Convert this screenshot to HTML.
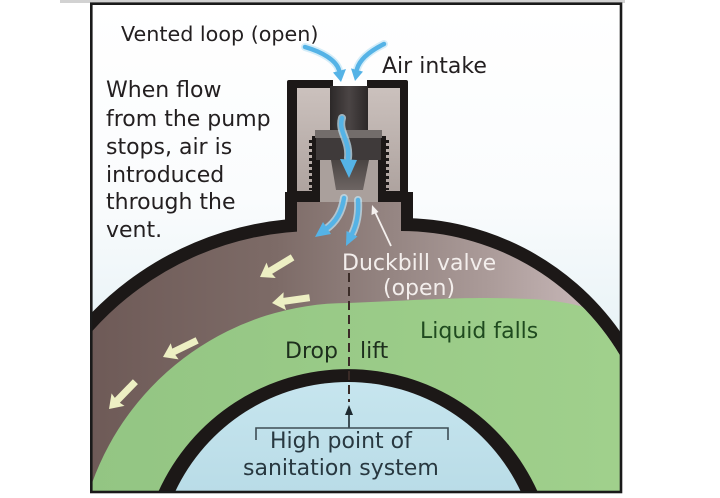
<!DOCTYPE html>
<html><head><meta charset="utf-8">
<style>
html,body{margin:0;padding:0;background:#fff;width:720px;height:498px;overflow:hidden;}
svg{display:block;overflow:hidden;}
text{font-family:"DejaVu Sans","Liberation Sans",sans-serif;}
</style></head><body>
<svg width="720" height="498" viewBox="0 0 720 498" xmlns="http://www.w3.org/2000/svg">
<defs>
 <linearGradient id="bg" x1="0" y1="5" x2="0" y2="493" gradientUnits="userSpaceOnUse">
  <stop offset="0" stop-color="#ffffff"/>
  <stop offset="0.4" stop-color="#fafcfd"/>
  <stop offset="1" stop-color="#d3e8ef"/>
 </linearGradient>
 <linearGradient id="brown" x1="90" y1="0" x2="622" y2="0" gradientUnits="userSpaceOnUse">
  <stop offset="0" stop-color="#6e5a57"/>
  <stop offset="0.35" stop-color="#7d6b67"/>
  <stop offset="0.55" stop-color="#938380"/>
  <stop offset="0.75" stop-color="#ab9b99"/>
  <stop offset="0.9" stop-color="#c1b1b1"/>
  <stop offset="1" stop-color="#c8b9b9"/>
 </linearGradient>
 <linearGradient id="green" x1="90" y1="0" x2="622" y2="0" gradientUnits="userSpaceOnUse">
  <stop offset="0" stop-color="#93c583"/>
  <stop offset="1" stop-color="#a0d08c"/>
 </linearGradient>
 <linearGradient id="sky" x1="0" y1="370" x2="0" y2="493" gradientUnits="userSpaceOnUse">
  <stop offset="0" stop-color="#c8e6ef"/>
  <stop offset="1" stop-color="#b9dce7"/>
 </linearGradient>
 <linearGradient id="tube" x1="330" y1="0" x2="368" y2="0" gradientUnits="userSpaceOnUse">
  <stop offset="0" stop-color="#2c2828"/>
  <stop offset="0.5" stop-color="#4b4545"/>
  <stop offset="1" stop-color="#2c2828"/>
 </linearGradient>
 <linearGradient id="chamber" x1="0" y1="88" x2="0" y2="192" gradientUnits="userSpaceOnUse">
  <stop offset="0" stop-color="#cbc1bd"/>
  <stop offset="1" stop-color="#aea39f"/>
 </linearGradient>
 <linearGradient id="bill" x1="0" y1="160" x2="0" y2="190" gradientUnits="userSpaceOnUse">
  <stop offset="0" stop-color="#4a4442"/>
  <stop offset="1" stop-color="#6d6563"/>
 </linearGradient>
 <clipPath id="innerDome"><path d="M 92,492 L 92,331.4 A 300 300 0 0 1 316 231 L 401 231 A 255 255 0 0 1 620 355.4 L 620 492 Z"/></clipPath>
</defs>

<rect x="60" y="0" width="565" height="3" fill="#d2d2d2"/>
<rect x="91" y="4" width="530" height="489" fill="url(#bg)"/>

<!-- outer dome black -->
<path d="M 92,492 L 92,312.4 A 313 313 0 0 1 316 218 L 401 218 A 268 268 0 0 1 620 331.5 L 620 492 Z" fill="#1c1817"/>
<!-- brown interior -->
<path d="M 92,492 L 92,331.4 A 300 300 0 0 1 316 231 L 401 231 A 255 255 0 0 1 620 355.4 L 620 492 Z" fill="url(#brown)"/>
<!-- green liquid -->
<g clip-path="url(#innerDome)">
 <path d="M 92,492 L 92,483.1 A 272 272 0 0 1 348 303 C 420 300 470 296 530 299 C 575 301 605 312 620 325 L 620 492 Z" fill="url(#green)"/>
</g>
<!-- inner pipe -->
<path d="M 158.2,492 A 208 208 0 0 1 537.8 492 Z" fill="#1c1817"/>
<path d="M 175,492 A 191 191 0 0 1 521 492 Z" fill="url(#sky)"/>

<!-- neck -->
<rect x="285" y="192" width="128" height="36" fill="#1c1817"/>
<rect x="297" y="200" width="104" height="40" fill="url(#brown)"/>

<!-- cap -->
<rect x="287" y="80" width="121" height="120" rx="2" fill="#1c1817"/>
<rect x="297" y="88" width="103" height="104" fill="url(#chamber)"/>
<rect x="333" y="79" width="34" height="10" fill="#ffffff"/>
<rect x="330" y="86" width="38" height="45" fill="url(#tube)"/>
<rect x="319" y="158" width="60" height="44" fill="#aaa09c"/>
<rect x="312" y="136" width="8" height="64" fill="#1c1817"/>
<rect x="378" y="136" width="8" height="64" fill="#1c1817"/>
<line x1="310.5" y1="140" x2="310.5" y2="190" stroke="#1c1817" stroke-width="3" stroke-dasharray="3 3"/>
<line x1="387.5" y1="140" x2="387.5" y2="190" stroke="#1c1817" stroke-width="3" stroke-dasharray="3 3"/>
<rect x="287" y="191" width="33" height="11" fill="#1c1817"/>
<rect x="378" y="191" width="30" height="11" fill="#1c1817"/>
<rect x="315" y="130" width="67" height="8" fill="#736d6b"/>
<rect x="316" y="138" width="65" height="22" fill="#3f3a3a"/>
<polygon points="331,160 369,160 363,190 336,190" fill="url(#bill)"/>

<!-- blue air arrows -->
<g fill="none" stroke="#c4e6f6" stroke-width="8" stroke-linecap="round" opacity="0.7">
 <path d="M 305,47 C 322,52 336,60 339,70"/>
 <path d="M 384,44 C 372,50 360,58 357,69"/>
 <path d="M 342,118 C 338,132 350,140 348,158"/>
 <path d="M 344,198 C 342,212 336,222 326,229"/>
 <path d="M 358,200 C 359,214 356,226 352,234"/>
</g>
<g fill="none" stroke="#55b3e6" stroke-width="4.5" stroke-linecap="round">
 <path d="M 305,47 C 322,52 336,60 339,70"/>
 <path d="M 384,44 C 372,50 360,58 357,69"/>
 <path d="M 342,118 C 338,132 350,140 348,158"/>
 <path d="M 344,198 C 342,212 336,222 326,229"/>
 <path d="M 358,200 C 359,214 356,226 352,234"/>
</g>
<g fill="#55b3e6">
 <polygon points="341,82 346,69 333,72.5"/>
 <polygon points="355,81 363,71.6 351,68.4"/>
 <polygon points="349,178 340,159 357,160"/>
 <polygon points="315,237 331,234 323,222"/>
 <polygon points="346,246 357.5,236.5 346.5,231"/>
</g>

<!-- white pointer arrow -->
<line x1="391" y1="246" x2="375" y2="212" stroke="#f4f0ee" stroke-width="1.8"/>
<polygon points="372,205 371.5,215 378.5,212" fill="#f4f0ee"/>

<!-- yellow flow arrows -->
<g fill="#edefc3">
 <polygon points="0,0 13,-9 12,-3.5 38,-3.5 38,3.5 12,3.5 13,9" transform="translate(260,277) rotate(-31)"/>
 <polygon points="0,0 13,-9 12,-3.5 38,-3.5 38,3.5 12,3.5 13,9" transform="translate(272,303) rotate(-8)"/>
 <polygon points="0,0 13,-9 12,-3.5 38,-3.5 38,3.5 12,3.5 13,9" transform="translate(163,357) rotate(-26)"/>
 <polygon points="0,0 13,-9 12,-3.5 38,-3.5 38,3.5 12,3.5 13,9" transform="translate(109,409) rotate(-46)"/>
</g>

<!-- dashed drop/lift line -->
<line x1="349" y1="273" x2="349" y2="402" stroke="#3a2b27" stroke-width="2" stroke-dasharray="9 5"/>
<line x1="349" y1="428" x2="349" y2="412" stroke="#1e2a30" stroke-width="1.6"/>
<polygon points="349,405 345,415 353,415" fill="#1e2a30"/>
<path d="M 256,440 L 256,428 L 448,428 L 448,440" fill="none" stroke="#3d4d55" stroke-width="1.6"/>

<!-- frame border -->
<rect x="91.3" y="3.7" width="529.7" height="488.3" fill="none" stroke="#1a1a1a" stroke-width="2.6"/>

<g fill="#231f20" font-size="22">
 <text x="121" y="41" font-size="20.7">Vented loop (open)</text>
 <text x="382" y="73">Air intake</text>
 <text x="106" y="97">When flow</text>
 <text x="106" y="126">from the pump</text>
 <text x="106" y="154">stops, air is</text>
 <text x="106" y="182">introduced</text>
 <text x="106" y="209">through the</text>
 <text x="106" y="237">vent.</text>
</g>
<g fill="#f3eeec" font-size="22">
 <text x="342" y="270">Duckbill valve</text>
 <text x="383" y="295">(open)</text>
</g>
<text x="420" y="338" font-size="22" fill="#1f4a1f">Liquid falls</text>
<g fill="#1d2f1d" font-size="22">
 <text x="285" y="358">Drop</text>
 <text x="360" y="358">lift</text>
</g>
<g fill="#283840" font-size="22">
 <text x="270" y="448">High point of</text>
 <text x="243" y="475">sanitation system</text>
</g>
</svg>
</body></html>
